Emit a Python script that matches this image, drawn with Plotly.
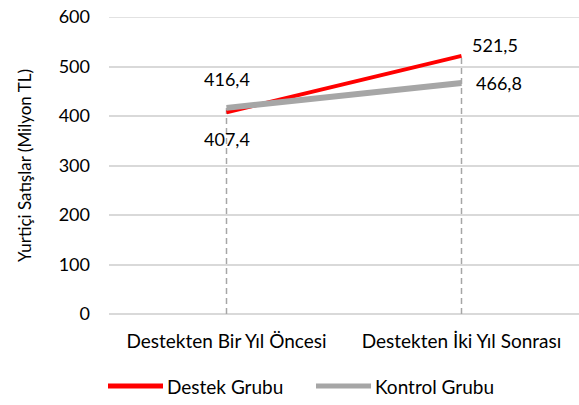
import plotly.graph_objects as go

categories = ['Destekten Bir Yıl Öncesi', 'Destekten İki Yıl Sonrası']
destek = [407.4, 521.5]
kontrol = [416.4, 466.8]
y_ticks = [0, 100, 200, 300, 400, 500, 600]
series_names = ['Destek Grubu', 'Kontrol Grubu']
series_colors = ['#ff0000', '#a6a6a6']

font = 'Lato, Calibri, sans-serif'

# plot area in pixels
PL, PR, PT, PB = 109, 579, 17, 314


def fmt(v):
    return f'{v:.1f}'.replace('.', ',')


fig = go.Figure()

# dashed drop lines from the highest point of each category down to 0
for cat, a, b in zip(categories, destek, kontrol):
    fig.add_trace(go.Scatter(x=[cat, cat], y=[0, max(a, b)], mode='lines',
                             line=dict(color='#a6a6a6', width=1.5, dash='6px,4px'),
                             showlegend=False, hoverinfo='skip'))

fig.add_trace(go.Scatter(x=categories, y=destek, name=series_names[0], mode='lines',
                         line=dict(color=series_colors[0], width=4), showlegend=False))
fig.add_trace(go.Scatter(x=categories, y=kontrol, name=series_names[1], mode='lines',
                         line=dict(color=series_colors[1], width=6), showlegend=False))

# top gridline (plotly clips the one sitting on the plot edge)
fig.add_shape(type='line', xref='paper', yref='y', x0=0, x1=1,
              y0=y_ticks[-1], y1=y_ticks[-1], layer='below',
              line=dict(color='#d9d9d9', width=1.5))

# data labels
label_cfg = [
    (categories[0], destek[0], 'center', 0, -27),
    (categories[1], destek[1], 'left', 8, 11),
    (categories[0], kontrol[0], 'center', 0, 29),
    (categories[1], kontrol[1], 'left', 12, 0),
]
for x, y, xa, dx, dy in label_cfg:
    fig.add_annotation(x=x, y=y, text=fmt(y), showarrow=False, xanchor=xa,
                       xshift=dx, yshift=dy, font=dict(size=18, color='#000000'))

# manual legend with long line samples
pw, ph = PR - PL, PB - PT
leg_y = (PB - 386) / ph
for name, color, lx in zip(series_names, series_colors, [108, 316]):
    fig.add_shape(type='line', xref='paper', yref='paper',
                  x0=(lx - PL) / pw, x1=(lx + 55 - PL) / pw,
                  y0=leg_y, y1=leg_y, line=dict(color=color, width=5))
    fig.add_annotation(xref='paper', yref='paper', x=(lx + 57 - PL) / pw,
                       y=leg_y, text=name, showarrow=False,
                       xanchor='left', yanchor='middle',
                       font=dict(size=19, color='#000000'))

fig.update_layout(
    width=579, height=405,
    margin=dict(l=PL, r=579 - PR, t=PT, b=405 - PB),
    plot_bgcolor='white', paper_bgcolor='white',
    font=dict(family=font, size=18, color='#000000'),
    showlegend=False,
)
fig.update_xaxes(range=[-0.5, 1.5], showgrid=False, showline=False,
                 ticks='', tickfont=dict(size=19), ticklabelstandoff=14,
                 automargin=False)
fig.update_yaxes(range=[0, 600], tickvals=y_ticks, showgrid=True,
                 gridcolor='#d9d9d9', gridwidth=1.5, zeroline=True,
                 zerolinecolor='#d9d9d9', zerolinewidth=1.5,
                 ticks='', ticklabelstandoff=18, automargin=False,
                 tickfont=dict(size=18),
                 title=dict(text='Yurtiçi Satışlar (Milyon TL)', font=dict(size=17),
                            standoff=22))

fig.write_html('out.html', config={'displayModeBar': False},
               post_script="document.body.style.margin='0';")
